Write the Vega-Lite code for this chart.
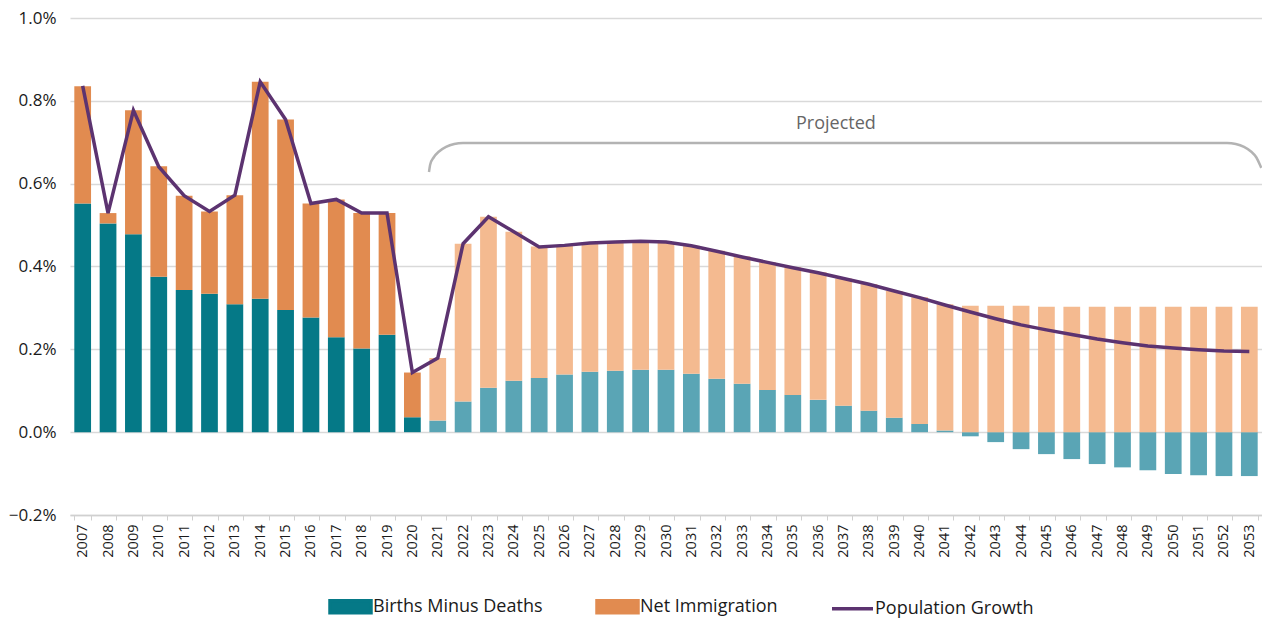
{
  "$schema": "https://vega.github.io/schema/vega-lite/v6.json",
  "width": 1192,
  "height": 497,
  "autosize": {"type": "none"},
  "padding": {"left": 70, "top": 18, "right": 0, "bottom": 105},
  "background": "white",
  "config": {
    "font": "Open Sans",
    "view": {"stroke": null},
    "axis": {"labelColor": "#1a1a1a", "labelFont": "Open Sans"},
    "axisY": {"labelFontSize": 17, "labelPadding": 14},
    "axisX": {"labelFontSize": 14.5},
    "legend": {"labelFont": "Open Sans"}
  },
  "datasets": {
    "components": [
      {"year": "2007", "series": "Births Minus Deaths", "group": "Births Minus Deaths", "value": 0.552},
      {"year": "2007", "series": "Net Immigration", "group": "Net Immigration", "value": 0.283},
      {"year": "2008", "series": "Births Minus Deaths", "group": "Births Minus Deaths", "value": 0.504},
      {"year": "2008", "series": "Net Immigration", "group": "Net Immigration", "value": 0.025},
      {"year": "2009", "series": "Births Minus Deaths", "group": "Births Minus Deaths", "value": 0.478},
      {"year": "2009", "series": "Net Immigration", "group": "Net Immigration", "value": 0.299},
      {"year": "2010", "series": "Births Minus Deaths", "group": "Births Minus Deaths", "value": 0.375},
      {"year": "2010", "series": "Net Immigration", "group": "Net Immigration", "value": 0.267},
      {"year": "2011", "series": "Births Minus Deaths", "group": "Births Minus Deaths", "value": 0.343},
      {"year": "2011", "series": "Net Immigration", "group": "Net Immigration", "value": 0.228},
      {"year": "2012", "series": "Births Minus Deaths", "group": "Births Minus Deaths", "value": 0.334},
      {"year": "2012", "series": "Net Immigration", "group": "Net Immigration", "value": 0.199},
      {"year": "2013", "series": "Births Minus Deaths", "group": "Births Minus Deaths", "value": 0.309},
      {"year": "2013", "series": "Net Immigration", "group": "Net Immigration", "value": 0.263},
      {"year": "2014", "series": "Births Minus Deaths", "group": "Births Minus Deaths", "value": 0.322},
      {"year": "2014", "series": "Net Immigration", "group": "Net Immigration", "value": 0.524},
      {"year": "2015", "series": "Births Minus Deaths", "group": "Births Minus Deaths", "value": 0.295},
      {"year": "2015", "series": "Net Immigration", "group": "Net Immigration", "value": 0.460},
      {"year": "2016", "series": "Births Minus Deaths", "group": "Births Minus Deaths", "value": 0.277},
      {"year": "2016", "series": "Net Immigration", "group": "Net Immigration", "value": 0.275},
      {"year": "2017", "series": "Births Minus Deaths", "group": "Births Minus Deaths", "value": 0.229},
      {"year": "2017", "series": "Net Immigration", "group": "Net Immigration", "value": 0.333},
      {"year": "2018", "series": "Births Minus Deaths", "group": "Births Minus Deaths", "value": 0.202},
      {"year": "2018", "series": "Net Immigration", "group": "Net Immigration", "value": 0.327},
      {"year": "2019", "series": "Births Minus Deaths", "group": "Births Minus Deaths", "value": 0.235},
      {"year": "2019", "series": "Net Immigration", "group": "Net Immigration", "value": 0.294},
      {"year": "2020", "series": "Births Minus Deaths", "group": "Births Minus Deaths", "value": 0.036},
      {"year": "2020", "series": "Net Immigration", "group": "Net Immigration", "value": 0.108},
      {"year": "2021", "series": "Births Minus Deaths", "group": "Births Minus Deaths (Projected)", "value": 0.028},
      {"year": "2021", "series": "Net Immigration", "group": "Net Immigration (Projected)", "value": 0.151},
      {"year": "2022", "series": "Births Minus Deaths", "group": "Births Minus Deaths (Projected)", "value": 0.074},
      {"year": "2022", "series": "Net Immigration", "group": "Net Immigration (Projected)", "value": 0.381},
      {"year": "2023", "series": "Births Minus Deaths", "group": "Births Minus Deaths (Projected)", "value": 0.107},
      {"year": "2023", "series": "Net Immigration", "group": "Net Immigration (Projected)", "value": 0.413},
      {"year": "2024", "series": "Births Minus Deaths", "group": "Births Minus Deaths (Projected)", "value": 0.124},
      {"year": "2024", "series": "Net Immigration", "group": "Net Immigration (Projected)", "value": 0.360},
      {"year": "2025", "series": "Births Minus Deaths", "group": "Births Minus Deaths (Projected)", "value": 0.131},
      {"year": "2025", "series": "Net Immigration", "group": "Net Immigration (Projected)", "value": 0.317},
      {"year": "2026", "series": "Births Minus Deaths", "group": "Births Minus Deaths (Projected)", "value": 0.139},
      {"year": "2026", "series": "Net Immigration", "group": "Net Immigration (Projected)", "value": 0.312},
      {"year": "2027", "series": "Births Minus Deaths", "group": "Births Minus Deaths (Projected)", "value": 0.146},
      {"year": "2027", "series": "Net Immigration", "group": "Net Immigration (Projected)", "value": 0.311},
      {"year": "2028", "series": "Births Minus Deaths", "group": "Births Minus Deaths (Projected)", "value": 0.148},
      {"year": "2028", "series": "Net Immigration", "group": "Net Immigration (Projected)", "value": 0.311},
      {"year": "2029", "series": "Births Minus Deaths", "group": "Births Minus Deaths (Projected)", "value": 0.151},
      {"year": "2029", "series": "Net Immigration", "group": "Net Immigration (Projected)", "value": 0.310},
      {"year": "2030", "series": "Births Minus Deaths", "group": "Births Minus Deaths (Projected)", "value": 0.151},
      {"year": "2030", "series": "Net Immigration", "group": "Net Immigration (Projected)", "value": 0.308},
      {"year": "2031", "series": "Births Minus Deaths", "group": "Births Minus Deaths (Projected)", "value": 0.141},
      {"year": "2031", "series": "Net Immigration", "group": "Net Immigration (Projected)", "value": 0.309},
      {"year": "2032", "series": "Births Minus Deaths", "group": "Births Minus Deaths (Projected)", "value": 0.129},
      {"year": "2032", "series": "Net Immigration", "group": "Net Immigration (Projected)", "value": 0.309},
      {"year": "2033", "series": "Births Minus Deaths", "group": "Births Minus Deaths (Projected)", "value": 0.117},
      {"year": "2033", "series": "Net Immigration", "group": "Net Immigration (Projected)", "value": 0.308},
      {"year": "2034", "series": "Births Minus Deaths", "group": "Births Minus Deaths (Projected)", "value": 0.102},
      {"year": "2034", "series": "Net Immigration", "group": "Net Immigration (Projected)", "value": 0.308},
      {"year": "2035", "series": "Births Minus Deaths", "group": "Births Minus Deaths (Projected)", "value": 0.090},
      {"year": "2035", "series": "Net Immigration", "group": "Net Immigration (Projected)", "value": 0.308},
      {"year": "2036", "series": "Births Minus Deaths", "group": "Births Minus Deaths (Projected)", "value": 0.078},
      {"year": "2036", "series": "Net Immigration", "group": "Net Immigration (Projected)", "value": 0.308},
      {"year": "2037", "series": "Births Minus Deaths", "group": "Births Minus Deaths (Projected)", "value": 0.064},
      {"year": "2037", "series": "Net Immigration", "group": "Net Immigration (Projected)", "value": 0.307},
      {"year": "2038", "series": "Births Minus Deaths", "group": "Births Minus Deaths (Projected)", "value": 0.052},
      {"year": "2038", "series": "Net Immigration", "group": "Net Immigration (Projected)", "value": 0.306},
      {"year": "2039", "series": "Births Minus Deaths", "group": "Births Minus Deaths (Projected)", "value": 0.035},
      {"year": "2039", "series": "Net Immigration", "group": "Net Immigration (Projected)", "value": 0.306},
      {"year": "2040", "series": "Births Minus Deaths", "group": "Births Minus Deaths (Projected)", "value": 0.020},
      {"year": "2040", "series": "Net Immigration", "group": "Net Immigration (Projected)", "value": 0.306},
      {"year": "2041", "series": "Births Minus Deaths", "group": "Births Minus Deaths (Projected)", "value": 0.004},
      {"year": "2041", "series": "Net Immigration", "group": "Net Immigration (Projected)", "value": 0.305},
      {"year": "2042", "series": "Births Minus Deaths", "group": "Births Minus Deaths (Projected)", "value": -0.010},
      {"year": "2042", "series": "Net Immigration", "group": "Net Immigration (Projected)", "value": 0.305},
      {"year": "2043", "series": "Births Minus Deaths", "group": "Births Minus Deaths (Projected)", "value": -0.024},
      {"year": "2043", "series": "Net Immigration", "group": "Net Immigration (Projected)", "value": 0.305},
      {"year": "2044", "series": "Births Minus Deaths", "group": "Births Minus Deaths (Projected)", "value": -0.041},
      {"year": "2044", "series": "Net Immigration", "group": "Net Immigration (Projected)", "value": 0.305},
      {"year": "2045", "series": "Births Minus Deaths", "group": "Births Minus Deaths (Projected)", "value": -0.053},
      {"year": "2045", "series": "Net Immigration", "group": "Net Immigration (Projected)", "value": 0.303},
      {"year": "2046", "series": "Births Minus Deaths", "group": "Births Minus Deaths (Projected)", "value": -0.065},
      {"year": "2046", "series": "Net Immigration", "group": "Net Immigration (Projected)", "value": 0.303},
      {"year": "2047", "series": "Births Minus Deaths", "group": "Births Minus Deaths (Projected)", "value": -0.077},
      {"year": "2047", "series": "Net Immigration", "group": "Net Immigration (Projected)", "value": 0.303},
      {"year": "2048", "series": "Births Minus Deaths", "group": "Births Minus Deaths (Projected)", "value": -0.085},
      {"year": "2048", "series": "Net Immigration", "group": "Net Immigration (Projected)", "value": 0.303},
      {"year": "2049", "series": "Births Minus Deaths", "group": "Births Minus Deaths (Projected)", "value": -0.092},
      {"year": "2049", "series": "Net Immigration", "group": "Net Immigration (Projected)", "value": 0.303},
      {"year": "2050", "series": "Births Minus Deaths", "group": "Births Minus Deaths (Projected)", "value": -0.101},
      {"year": "2050", "series": "Net Immigration", "group": "Net Immigration (Projected)", "value": 0.303},
      {"year": "2051", "series": "Births Minus Deaths", "group": "Births Minus Deaths (Projected)", "value": -0.104},
      {"year": "2051", "series": "Net Immigration", "group": "Net Immigration (Projected)", "value": 0.303},
      {"year": "2052", "series": "Births Minus Deaths", "group": "Births Minus Deaths (Projected)", "value": -0.106},
      {"year": "2052", "series": "Net Immigration", "group": "Net Immigration (Projected)", "value": 0.303},
      {"year": "2053", "series": "Births Minus Deaths", "group": "Births Minus Deaths (Projected)", "value": -0.106},
      {"year": "2053", "series": "Net Immigration", "group": "Net Immigration (Projected)", "value": 0.303}
    ],
    "growth": [
      {"year": "2007", "series": "Population Growth", "value": 0.836},
      {"year": "2008", "series": "Population Growth", "value": 0.529},
      {"year": "2009", "series": "Population Growth", "value": 0.777},
      {"year": "2010", "series": "Population Growth", "value": 0.641},
      {"year": "2011", "series": "Population Growth", "value": 0.571},
      {"year": "2012", "series": "Population Growth", "value": 0.533},
      {"year": "2013", "series": "Population Growth", "value": 0.572},
      {"year": "2014", "series": "Population Growth", "value": 0.846},
      {"year": "2015", "series": "Population Growth", "value": 0.755},
      {"year": "2016", "series": "Population Growth", "value": 0.552},
      {"year": "2017", "series": "Population Growth", "value": 0.562},
      {"year": "2018", "series": "Population Growth", "value": 0.529},
      {"year": "2019", "series": "Population Growth", "value": 0.529},
      {"year": "2020", "series": "Population Growth", "value": 0.144},
      {"year": "2021", "series": "Population Growth", "value": 0.179},
      {"year": "2022", "series": "Population Growth", "value": 0.455},
      {"year": "2023", "series": "Population Growth", "value": 0.520},
      {"year": "2024", "series": "Population Growth", "value": 0.484},
      {"year": "2025", "series": "Population Growth", "value": 0.447},
      {"year": "2026", "series": "Population Growth", "value": 0.451},
      {"year": "2027", "series": "Population Growth", "value": 0.457},
      {"year": "2028", "series": "Population Growth", "value": 0.459},
      {"year": "2029", "series": "Population Growth", "value": 0.461},
      {"year": "2030", "series": "Population Growth", "value": 0.459},
      {"year": "2031", "series": "Population Growth", "value": 0.450},
      {"year": "2032", "series": "Population Growth", "value": 0.437},
      {"year": "2033", "series": "Population Growth", "value": 0.423},
      {"year": "2034", "series": "Population Growth", "value": 0.410},
      {"year": "2035", "series": "Population Growth", "value": 0.397},
      {"year": "2036", "series": "Population Growth", "value": 0.385},
      {"year": "2037", "series": "Population Growth", "value": 0.371},
      {"year": "2038", "series": "Population Growth", "value": 0.357},
      {"year": "2039", "series": "Population Growth", "value": 0.341},
      {"year": "2040", "series": "Population Growth", "value": 0.325},
      {"year": "2041", "series": "Population Growth", "value": 0.307},
      {"year": "2042", "series": "Population Growth", "value": 0.290},
      {"year": "2043", "series": "Population Growth", "value": 0.274},
      {"year": "2044", "series": "Population Growth", "value": 0.259},
      {"year": "2045", "series": "Population Growth", "value": 0.247},
      {"year": "2046", "series": "Population Growth", "value": 0.236},
      {"year": "2047", "series": "Population Growth", "value": 0.225},
      {"year": "2048", "series": "Population Growth", "value": 0.216},
      {"year": "2049", "series": "Population Growth", "value": 0.208},
      {"year": "2050", "series": "Population Growth", "value": 0.203},
      {"year": "2051", "series": "Population Growth", "value": 0.199},
      {"year": "2052", "series": "Population Growth", "value": 0.196},
      {"year": "2053", "series": "Population Growth", "value": 0.195}
    ],
    "bracket": [
      {"x": 2020.655, "y": 0.6282},
      {"x": 2020.703, "y": 0.6463},
      {"x": 2020.837, "y": 0.6632},
      {"x": 2021.050, "y": 0.6777},
      {"x": 2021.326, "y": 0.6888},
      {"x": 2021.649, "y": 0.6958},
      {"x": 2021.996, "y": 0.6982},
      {"x": 2052.119, "y": 0.6982},
      {"x": 2052.466, "y": 0.6958},
      {"x": 2052.790, "y": 0.6888},
      {"x": 2053.066, "y": 0.6777},
      {"x": 2053.279, "y": 0.6632},
      {"x": 2053.413, "y": 0.6463},
      {"x": 2053.470, "y": 0.6380}
    ],
    "label": [
      {"x": 2036.7, "y": 0.744, "text": "Projected"}
    ]
  },
  "resolve": {"scale": {"x": "independent"}},
  "layer": [
    {
      "layer": [
        {
          "data": {"name": "components"},
          "mark": {"type": "bar"},
          "encoding": {
            "x": {
              "field": "year",
              "type": "ordinal",
              "scale": {"paddingInner": 0.34, "paddingOuter": 0.17},
              "axis": {
                "title": null,
                "labelAngle": -90,
                "labelPadding": 4,
                "tickBand": "extent",
                "tickSize": 5,
                "tickColor": "#d0d0d0",
                "domainColor": "#d0d0d0",
                "domainWidth": 1.5,
                "grid": false
              }
            },
            "y": {
              "field": "value",
              "type": "quantitative",
              "stack": "zero",
              "scale": {"domain": [-0.2, 1.0], "nice": false, "zero": false},
              "axis": {
                "title": null,
                "values": [-0.2, 0, 0.2, 0.4, 0.6, 0.8, 1.0],
                "labelExpr": "format(datum.value, '.1f') + '%'",
                "ticks": false,
                "domain": false,
                "grid": true,
                "gridColor": "#d9d9d9",
                "gridWidth": 1.5
              }
            },
            "fill": {
              "field": "group",
              "type": "nominal",
              "scale": {
                "domain": ["Births Minus Deaths", "Net Immigration", "Births Minus Deaths (Projected)", "Net Immigration (Projected)"],
                "range": ["#057987", "#E18B50", "#5AA5B5", "#F4BA90"]
              },
              "legend": null
            },
            "order": {"field": "series", "sort": "ascending"}
          }
        },
        {
          "data": {"name": "growth"},
          "mark": {"type": "line", "strokeWidth": 3.5, "strokeJoin": "miter"},
          "encoding": {
            "x": {"field": "year", "type": "ordinal"},
            "y": {"field": "value", "type": "quantitative"},
            "color": {
              "field": "series",
              "type": "nominal",
              "scale": {
                "domain": ["Births Minus Deaths", "Net Immigration", "Population Growth"],
                "range": ["#057987", "#E18B50", "#5C3370"]
              },
              "legend": {
                "title": null,
                "orient": "none",
                "legendX": 258,
                "legendY": 566,
                "direction": "horizontal",
                "labelFontSize": 18,
                "labelLimit": 400,
                "labelColor": "#1a1a1a",
                "labelOffset": 0,
                "columnPadding": 47,
                "symbolType": "M-1,-0.29H1V0.29H-1Z",
                "symbolSize": 1681,
                "encode": {
                  "symbols": {
                    "update": {
                      "shape": {"signal": "datum.value === 'Population Growth' ? 'M-1,0H1' : 'M-1,-0.29H1V0.29H-1Z'"},
                      "fill": {"signal": "datum.value === 'Population Growth' ? 'transparent' : scale('color', datum.value)"},
                      "stroke": {"signal": "datum.value === 'Population Growth' ? scale('color', datum.value) : 'transparent'"},
                      "strokeWidth": {"value": 3.5},
                      "size": {"value": 1681},
                      "opacity": {"value": 1}
                    }
                  }
                }
              }
            }
          }
        }
      ]
    },
    {
      "data": {"name": "bracket"},
      "mark": {"type": "line", "interpolate": "monotone", "color": "#b3b3b3", "strokeWidth": 2.5},
      "encoding": {
        "x": {"field": "x", "type": "quantitative", "scale": {"domain": [2006.5, 2053.5], "nice": false, "zero": false}, "axis": null},
        "y": {"field": "y", "type": "quantitative"}
      }
    },
    {
      "data": {"name": "label"},
      "mark": {"type": "text", "fontSize": 18, "color": "#666666", "font": "Open Sans", "baseline": "middle", "align": "center"},
      "encoding": {
        "x": {"field": "x", "type": "quantitative", "scale": {"domain": [2006.5, 2053.5], "nice": false, "zero": false}, "axis": null},
        "y": {"field": "y", "type": "quantitative"},
        "text": {"field": "text"}
      }
    }
  ]
}
